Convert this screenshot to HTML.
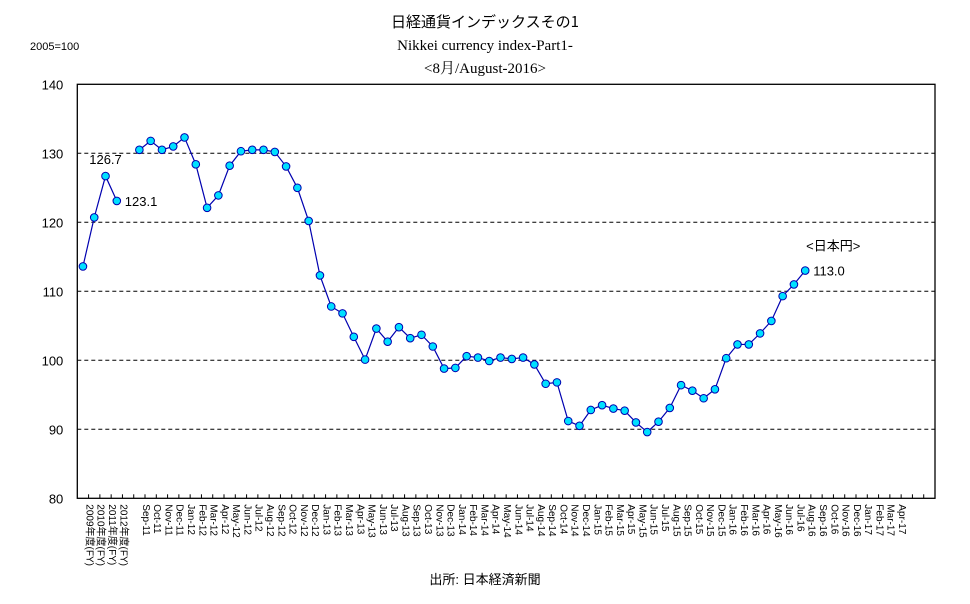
<!DOCTYPE html>
<html><head><meta charset="utf-8">
<style>
body{margin:0;background:#fff;}
svg{display:block;font-family:"Liberation Sans","Noto Sans CJK JP",sans-serif;}
</style></head>
<body>
<svg id="chart" width="970" height="604" viewBox="0 0 970 604" xmlns="http://www.w3.org/2000/svg">
<text x="485" y="27" font-size="15" text-anchor="middle" font-family="'Noto Sans CJK JP',sans-serif">日経通貨インデックスその1</text>
<text x="485" y="50" font-size="15" text-anchor="middle" font-family="'Liberation Serif','Noto Serif CJK SC',serif">Nikkei currency index-Part1-</text>
<text x="485" y="73" font-size="15" text-anchor="middle" font-family="'Liberation Serif','Noto Serif CJK SC',serif">&lt;8月/August-2016&gt;</text>
<text x="30" y="50" font-size="11">2005=100</text>
<text x="485" y="584" font-size="13" text-anchor="middle">出所: 日本経済新聞</text>
<g id="grid"></g>
<g id="axes"></g>
<g id="series"></g>
<g id="labels"></g>
</svg>
<script>
const categories=["2009年度(FY)","2010年度(FY)","2011年度(FY)","2012年度(FY)","",
"Sep-11","Oct-11","Nov-11","Dec-11","Jan-12","Feb-12","Mar-12","Apr-12","May-12","Jun-12","Jul-12","Aug-12","Sep-12","Oct-12","Nov-12","Dec-12",
"Jan-13","Feb-13","Mar-13","Apr-13","May-13","Jun-13","Jul-13","Aug-13","Sep-13","Oct-13","Nov-13","Dec-13",
"Jan-14","Feb-14","Mar-14","Apr-14","May-14","Jun-14","Jul-14","Aug-14","Sep-14","Oct-14","Nov-14","Dec-14",
"Jan-15","Feb-15","Mar-15","Apr-15","May-15","Jun-15","Jul-15","Aug-15","Sep-15","Oct-15","Nov-15","Dec-15",
"Jan-16","Feb-16","Mar-16","Apr-16","May-16","Jun-16","Jul-16","Aug-16","Sep-16","Oct-16","Nov-16","Dec-16",
"Jan-17","Feb-17","Mar-17","Apr-17","","",""];
const fyValues=[113.6,120.7,126.7,123.1];
const monthlyValues=[130.5,131.8,130.5,131.0,132.3,128.4,122.1,123.9,128.2,130.3,130.5,130.5,130.2,128.1,125.0,120.2,
112.3,107.8,106.8,103.4,100.1,104.6,102.7,104.8,103.2,103.7,102.0,98.8,
98.9,100.6,100.4,99.9,100.4,100.2,100.4,99.4,96.6,96.8,91.2,90.5,
92.8,93.5,93.0,92.7,91.0,89.6,91.1,93.1,96.4,95.6,94.5,95.8,
100.3,102.3,102.3,103.9,105.7,109.3,111.0,113.0];
const yTicks=[80,90,100,110,120,130,140];

const NS="http://www.w3.org/2000/svg";
const L=77.3,R=935,T=84.3,B=498.3,ymin=80,ymax=140;
const n=categories.length, step=(R-L)/n;
const xs=i=>L+(i+0.5)*step;
const ys=v=>B-(v-ymin)/(ymax-ymin)*(B-T);
function mk(tag,attrs,parent,text){const e=document.createElementNS(NS,tag);for(const k in attrs)e.setAttribute(k,attrs[k]);if(text!==undefined)e.textContent=text;parent.appendChild(e);return e;}
const grid=document.getElementById('grid'),axes=document.getElementById('axes'),series=document.getElementById('series'),labels=document.getElementById('labels');

mk('rect',{x:L,y:T,width:R-L,height:B-T,fill:'none',stroke:'#000','stroke-width':1.3},axes);
yTicks.forEach(t=>{
  const y=ys(t);
  if(t>ymin&&t<ymax){const g=mk('line',{x1:L,x2:R,y1:y,y2:y,stroke:'#000','stroke-dasharray':'4,3','stroke-width':1},grid);
  
  }
  const tx=mk('text',{x:L-14,y:y+5,'font-size':13,'text-anchor':'end'},axes,String(t));
  
  
});
categories.forEach((c,i)=>{
  const x=L+i*step;
  if(i>0){const tk=mk('line',{x1:x,x2:x,y1:B,y2:B-4,stroke:'#000','stroke-width':1},axes);
  
  }
  if(c){const cx=xs(i);
  const t=mk('text',{x:0,y:0,'font-size':10,transform:`translate(${cx+3.5},${B+6}) rotate(90)`},axes,c);
  
  }
});
function drawSeries(vals,offset,name){
  const pts=vals.map((v,i)=>[xs(i+offset),ys(v)]);
  const pl=mk('polyline',{points:pts.map(p=>p.join(',')).join(' '),fill:'none',stroke:'#0000b0','stroke-width':1.2},series);
  
  
  pts.forEach(p=>{const c=mk('circle',{cx:p[0],cy:p[1],r:3.8,fill:'#00e0ff',stroke:'#0000b0','stroke-width':1},series);
  
  });
}
drawSeries(fyValues,0,'fy');
drawSeries(monthlyValues,5,'monthly');
function lab(txt,x,y,name,anchor){const t=mk('text',{x:x,y:y,'font-size':13,'text-anchor':anchor||'start'},labels,txt);

}
lab(fyValues[2].toFixed(1),xs(2),ys(fyValues[2])-12,'label-fy2011','middle');
lab(fyValues[3].toFixed(1),xs(3)+8,ys(fyValues[3])+5,'label-fy2012');
const li=monthlyValues.length-1;
lab(monthlyValues[li].toFixed(1),xs(li+5)+8,ys(monthlyValues[li])+5,'label-latest');
lab('<日本円>',xs(li+5)+28,ys(monthlyValues[li])-20,'series-name-yen','middle');
</script>
</body></html>
